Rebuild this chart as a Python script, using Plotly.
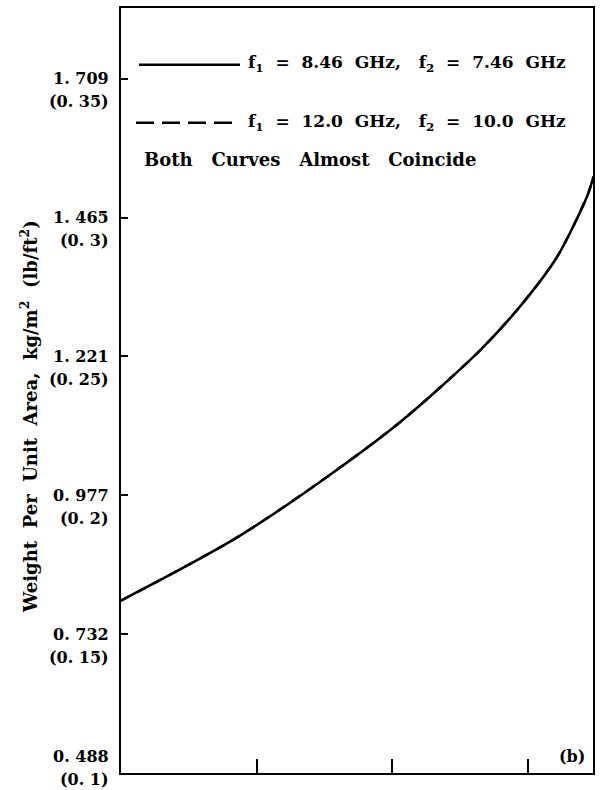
import plotly.graph_objects as go

# ---- data ----
x_vals = [0.0, 0.435, 0.878, 1.469, 2.059, 2.649, 2.967, 3.218, 3.439, 3.483]
y_vals = [0.1621, 0.1733, 0.1855, 0.2049, 0.2264, 0.2523, 0.2695, 0.2861, 0.3080, 0.3148]  # lb/ft^2

y_ticks = [0.1, 0.15, 0.2, 0.25, 0.3, 0.35]
y_kg_labels = ["0. 488", "0. 732", "0. 977", "1. 221", "1. 465", "1. 709"]
y_lb_labels = ["(0. 1)", "(0. 15)", "(0. 2)", "(0. 25)", "(0. 3)", "(0. 35)"]
x_ticks = [1, 2, 3]

legend_labels = ["f<sub>1</sub>  =  8.46  GHz,   f<sub>2</sub>  =  7.46  GHz",
                 "f<sub>1</sub>  =  12.0  GHz,   f<sub>2</sub>  =  10.0  GHz"]
note_text = "Both   Curves   Almost   Coincide"
y_title = "Weight  Per  Unit  Area,  kg/m<sup>2</sup>  (lb/ft<sup>2</sup>)"
panel_label = "(b)"

FONT = "DejaVu Serif"

fig = go.Figure()
fig.add_trace(go.Scatter(x=x_vals, y=y_vals, mode="lines",
                         line=dict(color="black", width=2.5, dash="dash", shape="spline", smoothing=0.8),
                         showlegend=False, hoverinfo="skip"))
fig.add_trace(go.Scatter(x=x_vals, y=y_vals, mode="lines",
                         line=dict(color="black", width=2.5, shape="spline", smoothing=0.8),
                         showlegend=False, hoverinfo="skip"))

fig.update_xaxes(range=[0, 3.48], showline=True, linecolor="black", linewidth=2, mirror=True,
                 tickvals=x_ticks, ticktext=["", "", ""], ticks="inside", ticklen=14, tickwidth=2,
                 tickcolor="black", showgrid=False, zeroline=False)
fig.update_yaxes(range=[0.1, 0.3755], showline=True, linecolor="black", linewidth=2, mirror=True,
                 tickvals=y_ticks, ticktext=[""] * len(y_ticks), ticks="inside", ticklen=7, tickwidth=2,
                 tickcolor="black", showgrid=False, zeroline=False)

W, H = 602, 790
L, R, T, B = 121, 9, 6, 17
pw, ph = W - L - R, H - T - B


def px(xp):
    return (xp - L) / pw


def py(yp):
    return 1 - (yp - T) / ph


tick_font = dict(family=FONT, size=16, color="black", weight="bold")
anns = []
for i, (v, kg, lb) in enumerate(zip(y_ticks, y_kg_labels, y_lb_labels)):
    s1, s2 = (0, -23) if i > 0 else (17, -6)
    anns.append(dict(x=0, xref="paper", xanchor="right", xshift=-10, y=v, yref="y", yanchor="middle",
                     yshift=s1, text=kg, showarrow=False, font=tick_font))
    anns.append(dict(x=0, xref="paper", xanchor="right", xshift=-10, y=v, yref="y", yanchor="middle",
                     yshift=s2, text=lb, showarrow=False, font=tick_font))

leg_font = dict(family=FONT, size=17, color="black", weight="bold")
anns.append(dict(x=px(246), y=py(62), xref="paper", yref="paper", xanchor="left", yanchor="middle",
                 text=legend_labels[0], showarrow=False, font=leg_font))
anns.append(dict(x=px(246), y=py(121), xref="paper", yref="paper", xanchor="left", yanchor="middle",
                 text=legend_labels[1], showarrow=False, font=leg_font))
anns.append(dict(x=px(142), y=py(158), xref="paper", yref="paper", xanchor="left", yanchor="middle",
                 text=note_text, showarrow=False, font=dict(family=FONT, size=18, color="black", weight="bold")))
anns.append(dict(x=px(587), y=py(756), xref="paper", yref="paper", xanchor="right", yanchor="middle",
                 text=panel_label, showarrow=False, font=dict(family=FONT, size=16, color="black", weight="bold")))
anns.append(dict(x=px(29), y=py(416), xref="paper", yref="paper", xanchor="center", yanchor="middle",
                 textangle=-90, text=y_title, showarrow=False,
                 font=dict(family=FONT, size=18, color="black", weight="bold")))

shapes = [
    dict(type="line", xref="paper", yref="paper", x0=px(139), x1=px(240), y0=py(63), y1=py(63),
         line=dict(color="black", width=2.5)),
    dict(type="line", xref="paper", yref="paper", x0=px(136), x1=px(240), y0=py(121), y1=py(121),
         line=dict(color="black", width=2.5, dash="18px,8px")),
]

fig.update_layout(width=W, height=H, margin=dict(l=L, r=R, t=T, b=B, pad=0),
                  paper_bgcolor="white", plot_bgcolor="white", annotations=anns, shapes=shapes,
                  font=dict(family=FONT, color="black"))

fig.write_html("out.html")
